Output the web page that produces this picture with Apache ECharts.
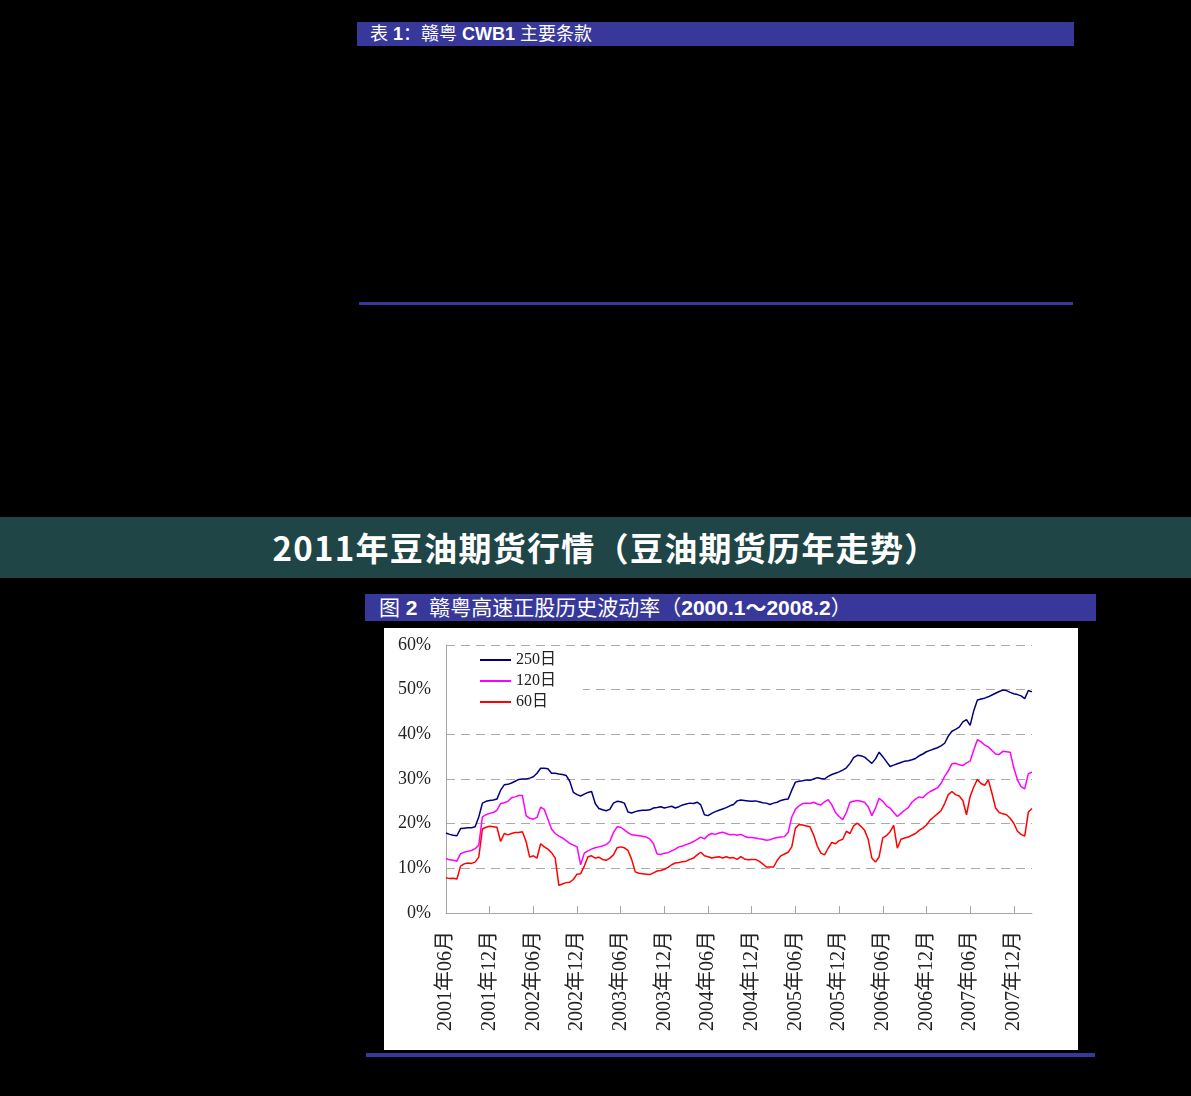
<!DOCTYPE html>
<html>
<head>
<meta charset="utf-8">
<script src="https://cdn.jsdelivr.net/npm/echarts@6/dist/echarts.min.js"></script>
<style>
  html, body { margin: 0; padding: 0; background: #000; }
  body { width: 1191px; height: 1096px; position: relative; overflow: hidden;
         font-family: 'Liberation Sans', 'Noto Sans CJK SC', sans-serif; }
  .bar { position: absolute; background: #38389a; color: #fff; white-space: nowrap; box-sizing: border-box; }
  #tab1 { left: 357px; top: 22px; width: 717px; height: 24px; font-size: 18px; line-height: 25px; padding-left: 13px; }
  #rule1 { left: 359px; top: 302px; width: 714px; height: 3px; }
  #banner { position: absolute; left: 0; top: 517px; width: 1191px; height: 61px; background: #1f4546;
            color: #fff; font-family: 'Noto Sans CJK SC', sans-serif; font-weight: bold; font-size: 33px;
            line-height: 61px; text-align: center; padding-left: 20px; box-sizing: border-box; letter-spacing: 1.3px; }
  #fig2 { left: 365px; top: 594px; width: 731px; height: 27px; font-size: 21px; line-height: 28px; padding-left: 14px; }
  #chart { position: absolute; left: 384px; top: 628px; width: 694px; height: 422px; background: #fff; }
  #rule2 { left: 366px; top: 1053px; width: 729px; height: 4px; }
</style>
</head>
<body>
<div id="tab1" class="bar">表 <b>1</b>：赣粤 <b>CWB1</b> 主要条款</div>
<div id="rule1" class="bar"></div>
<div id="banner">2011年豆油期货行情（豆油期货历年走势）</div>
<div id="fig2" class="bar">图 <b>2</b>&nbsp; 赣粤高速正股历史波动率（<b>2000.1～2008.2</b>）</div>
<div id="chart"></div>
<div id="rule2" class="bar"></div>
<script>
// half-month categories, 2001-06 .. 2008-02
const categories = [];
for (let k = 0; k <= 80; k++) {
  const y = 2001 + Math.floor((5 + k) / 12);
  const mm = String(((5 + k) % 12) + 1).padStart(2, '0');
  categories.push(`${y}年${mm}月上`, `${y}年${mm}月下`);
}

const seriesNames = ['250日', '120日', '60日'];

const vol250 = [
  17.9, 17.6, 17.4, 17.3, 18.9, 19.0, 19.1, 19.1, 19.3, 21.5,
  24.6, 25.0, 25.2, 25.3, 25.5, 27.5, 28.7, 28.8, 29.1, 29.5,
  29.9, 30.0, 30.0, 30.2, 30.5, 31.3, 32.4, 32.4, 32.3, 31.3,
  31.3, 31.1, 31.0, 30.8, 29.5, 27.0, 26.5, 26.2, 26.6, 27.0,
  27.2, 24.5, 23.4, 23.1, 22.9, 23.2, 24.6, 25.0, 24.9, 24.6,
  22.6, 22.4, 22.7, 22.9, 23.0, 23.0, 23.1, 23.5, 23.6, 23.8,
  23.5, 23.7, 23.9, 23.5, 23.8, 24.2, 24.4, 24.6, 24.5, 24.8,
  24.2, 22.0, 21.8, 22.3, 22.7, 23.0, 23.3, 23.6, 24.0, 24.3,
  25.1, 25.3, 25.2, 25.1, 25.0, 25.1, 24.9, 24.7, 24.6, 24.3,
  24.6, 24.8, 25.2, 25.4, 25.5, 27.5, 29.3, 29.5, 29.6, 29.8,
  29.7, 30.0, 30.3, 30.1, 30.0, 30.6, 31.0, 31.3, 31.6, 32.0,
  32.5, 33.5, 34.8, 35.3, 35.2, 34.9, 34.2, 33.5, 34.5, 36.0,
  35.0, 33.9, 32.8, 33.1, 33.4, 33.7, 34.0, 34.1, 34.3, 34.6,
  35.2, 35.6, 36.1, 36.4, 36.7, 37.0, 37.4, 38.0, 39.6, 40.7,
  41.1, 41.6, 42.8, 43.3, 42.0, 45.3, 47.7, 47.9, 48.1, 48.4,
  48.8, 49.2, 49.6, 49.9, 49.8, 49.4, 49.1, 48.9, 48.6, 48.0,
  49.8, 49.5
];

const vol120 = [
  12.2, 11.9, 11.8, 11.6, 13.3, 13.6, 13.8, 14.0, 14.4, 15.2,
  21.5, 22.0, 22.3, 22.5, 23.0, 24.5, 24.7, 25.0, 25.8, 26.0,
  26.3, 26.3, 21.8, 21.2, 21.0, 21.4, 23.7, 23.2, 21.0, 18.8,
  17.8, 17.2, 16.8, 16.2, 15.6, 15.2, 14.8, 10.8, 13.4, 13.9,
  14.3, 14.6, 14.8, 15.0, 15.3, 16.0, 18.0, 19.3, 19.2, 18.6,
  18.0, 17.5, 17.4, 17.3, 17.2, 17.0, 16.6, 15.5, 13.2, 13.1,
  13.4, 13.5, 13.9, 14.3, 14.8, 15.0, 15.3, 15.6, 16.0, 16.5,
  17.0, 16.6, 17.4, 17.8, 17.6, 17.9, 18.1, 17.8, 17.5, 17.6,
  17.4, 17.6, 17.2, 16.9, 16.9, 16.8, 16.6, 16.5, 16.3, 16.4,
  16.7, 16.9, 17.0, 17.1, 18.0, 21.5, 23.2, 24.0, 24.5, 24.6,
  24.5, 24.8, 24.4, 24.2, 24.9, 25.4, 24.2, 22.5, 21.6, 20.9,
  22.5, 24.8, 25.0, 25.2, 25.0, 24.8, 23.8, 21.8, 23.5, 25.7,
  25.0, 24.0, 23.5, 22.5, 21.6, 22.3, 23.0, 23.6, 24.8, 25.5,
  26.0, 25.8, 26.6, 27.2, 27.6, 28.0, 29.0, 30.6, 31.8, 33.4,
  33.5, 33.2, 33.0, 33.6, 34.0, 36.5, 38.8, 38.3, 37.6, 37.2,
  36.4, 35.6, 35.5, 36.2, 36.1, 36.0, 32.5, 29.8, 28.3, 27.8,
  31.2, 31.5
];

const vol60 = [
  7.9, 7.7, 7.8, 7.6, 10.5, 11.0, 11.2, 11.1, 11.4, 12.5,
  18.8, 19.2, 19.4, 19.3, 19.2, 16.0, 17.8, 17.5, 17.8, 18.0,
  18.0, 18.2, 16.0, 12.5, 12.8, 12.3, 15.5, 14.8, 14.3, 13.5,
  12.3, 6.2, 6.5, 6.8, 6.9, 7.5, 8.7, 8.8, 10.5, 12.6,
  12.8, 12.3, 12.5, 12.0, 11.8, 12.3, 13.0, 14.6, 14.8, 14.6,
  14.0, 12.0, 9.2, 8.9, 8.8, 8.7, 8.6, 9.0, 9.4, 9.5,
  9.8, 10.2, 10.8, 11.2, 11.3, 11.5, 11.6, 12.0, 12.3, 13.0,
  13.6, 12.8, 12.6, 12.3, 12.5, 12.6, 12.3, 12.6, 12.3, 12.4,
  12.0, 12.6, 12.1, 11.9, 12.0, 12.0, 11.6, 11.0, 10.3, 10.3,
  10.3, 11.8, 12.8, 13.2, 13.6, 14.8, 19.0, 19.8, 19.7, 19.5,
  19.3, 17.5, 15.0, 13.4, 13.0, 14.5, 15.8, 15.5, 16.2, 16.5,
  18.3, 17.8, 19.5, 20.1, 19.4, 18.5, 16.5, 12.3, 11.4, 12.6,
  16.8, 17.3, 18.2, 19.6, 14.5, 16.5, 16.8, 17.0, 17.4, 17.8,
  18.5, 19.0, 19.7, 20.8, 21.5, 22.2, 22.9, 24.5, 26.5, 27.2,
  26.5, 26.2, 25.2, 22.0, 26.1, 28.2, 29.9, 29.0, 28.6, 29.8,
  26.8, 23.5, 22.5, 22.2, 22.0, 21.2, 20.1, 18.3, 17.6, 17.2,
  22.6, 23.4
];

const colors = ['#000080', '#ff00ff', '#ff0000'];
const serif = "'Liberation Serif', 'Noto Sans CJK SC', serif";
const everyHalfYear = (idx) => idx % 12 === 0;

const chart = echarts.init(document.getElementById('chart'));
chart.setOption({
  animation: false,
  backgroundColor: '#fff',
  color: colors,
  grid: { left: 62, right: 46, top: 17, bottom: 137, containLabel: false },
  legend: {
    orient: 'vertical',
    left: 63,
    top: 20,
    padding: [4, 27, 4, 33],
    backgroundColor: '#fff',
    icon: 'rect',
    itemWidth: 31,
    itemHeight: 2,
    itemGap: 5,
    data: seriesNames,
    textStyle: { fontFamily: serif, fontSize: 16, color: '#222', padding: [2, 0, 0, 0] }
  },
  xAxis: {
    type: 'category',
    boundaryGap: false,
    data: categories,
    axisLine: { lineStyle: { color: '#a6a6a6' } },
    axisTick: { inside: true, length: 7, interval: everyHalfYear, lineStyle: { color: '#a6a6a6' } },
    axisLabel: {
      interval: everyHalfYear,
      rotate: 90,
      margin: 18,
      fontFamily: serif,
      fontSize: 20,
      color: '#222',
      formatter: (v) => v.slice(0, -1)
    }
  },
  yAxis: {
    type: 'value',
    min: 0,
    max: 60,
    interval: 10,
    axisLine: { show: true, lineStyle: { color: '#a6a6a6' } },
    axisTick: { show: false },
    axisLabel: { formatter: '{value}%', fontFamily: serif, fontSize: 18, color: '#222', margin: 15 },
    splitLine: { lineStyle: { color: '#aaa', type: [9, 6] } }
  },
  series: [
    { name: seriesNames[0], type: 'line', data: vol250, symbol: 'none', lineStyle: { width: 1.5 } },
    { name: seriesNames[1], type: 'line', data: vol120, symbol: 'none', lineStyle: { width: 1.5 } },
    { name: seriesNames[2], type: 'line', data: vol60, symbol: 'none', lineStyle: { width: 1.5 } }
  ]
});
</script>
</body>
</html>
